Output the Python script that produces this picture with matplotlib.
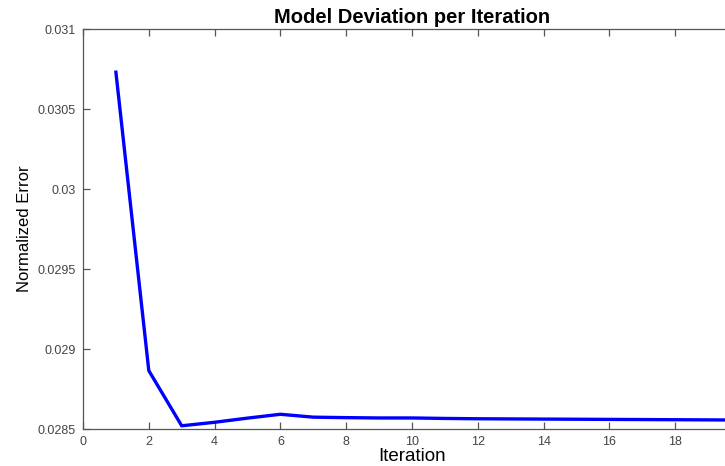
import numpy as np
import matplotlib.pyplot as plt

# Normalized error after each iteration
iterations = list(range(1, 21))
errors = [0.03073, 0.028865, 0.02852, 0.028542, 0.028568, 0.028592, 0.028574,
          0.028571, 0.028569, 0.028569, 0.028566, 0.028564, 0.028563, 0.028562,
          0.028561, 0.02856, 0.028559, 0.028558, 0.028557, 0.028556]

yticks = [0.0285, 0.029, 0.0295, 0.03, 0.0305, 0.031]
ytick_labels = ['0.0285', '0.029', '0.0295', '0.03', '0.0305', '0.031']
xticks = list(range(0, 20, 2))

plt.rcParams['font.family'] = ['Liberation Sans', 'DejaVu Sans']

fig = plt.figure(figsize=(7.25, 4.66), dpi=100)
ax = fig.add_axes([83 / 725, 1 - 429 / 466, 658 / 725, 400 / 466])

ax.plot(iterations, errors, color='#0000ff', linewidth=2.4)

ax.set_xlim(0, 20)
ax.set_ylim(0.0285, 0.031)
ax.set_xticks(xticks)
ax.set_yticks(yticks)
ax.set_yticklabels(ytick_labels)

gray = '#555555'
for s in ax.spines.values():
    s.set_color(gray)
    s.set_linewidth(0.9)
ax.tick_params(direction='in', length=5, width=0.9, color=gray,
               labelcolor='#444444', labelsize=9, top=True, right=True)
ax.tick_params(axis='y', pad=5)
ax.tick_params(axis='x', pad=5)

ax.set_title('Model Deviation per Iteration', fontsize=14.5, fontweight='bold', pad=4)
ax.set_xlabel('Iteration', fontsize=13.5, labelpad=0)
ax.set_ylabel('Normalized Error', fontsize=12, labelpad=4)

fig.savefig('out.png', dpi=100)
